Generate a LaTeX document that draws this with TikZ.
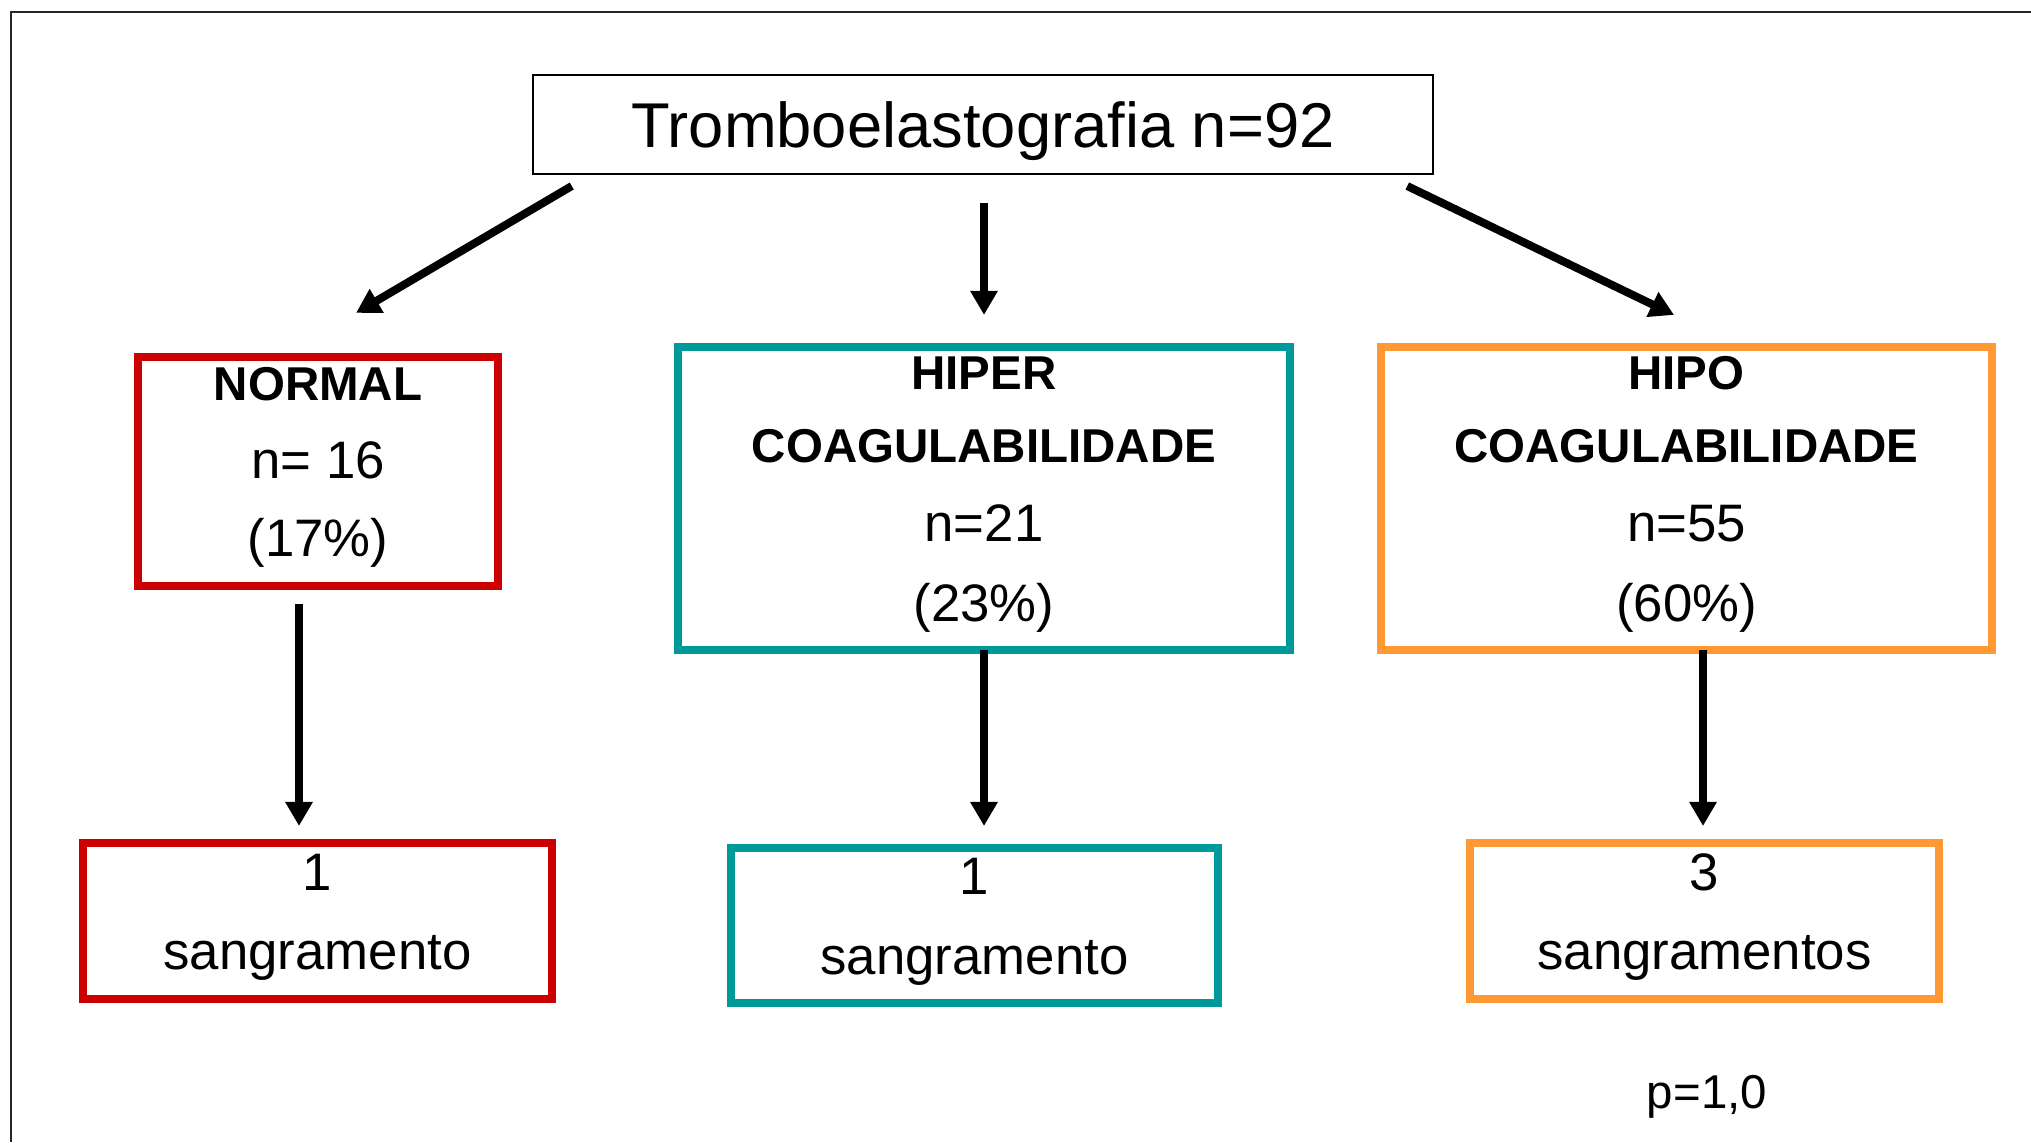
\documentclass[tikz,border=0pt]{standalone}
\usepackage{fontspec}
\setmainfont{Liberation Sans}
\usetikzlibrary{arrows.meta,calc}
\definecolor{boxred}{RGB}{204,0,0}
\definecolor{boxteal}{RGB}{0,153,153}
\definecolor{boxorange}{RGB}{255,153,51}

\begin{document}
\begin{tikzpicture}[x=0.01cm,y=-0.01cm,
  frameline/.style={line width=0.02cm, draw=black!85},
  titlebox/.style={draw, line width=0.02cm, inner sep=0pt, outer sep=0pt,
    minimum width=9cm, minimum height=0.99cm, text height=0.45cm, text depth=0cm,
    font=\fontsize{18}{22}\selectfont},
  catbox/.style={draw=#1, line width=0.075cm, inner sep=0pt, outer sep=0pt},
  flow/.style={-{Triangle[length=0.24cm,width=0.26cm]}, line width=0.08cm},
  hd/.style={anchor=base, font=\bfseries\fontsize{13.5}{16}\selectfont},
  val/.style={anchor=base, font=\fontsize{15}{18}\selectfont},
  note/.style={anchor=base, font=\fontsize{13.5}{16}\selectfont}]

\useasboundingbox (0,0) rectangle (2031,1142);

% outer frame (left and top edges)
\draw[frameline] (11,1142) -- (11,12) -- (2031,12);

% root
\node[titlebox] (title) at (983,124.5) {Tromboelastografia n=92};

% category boxes
\node[catbox=boxred, minimum width=3.6cm, minimum height=2.29cm] (normal) at (318,471.5) {};
\node[catbox=boxteal, minimum width=6.12cm, minimum height=3.03cm] (hiper) at (984,498.5) {};
\node[catbox=boxorange, minimum width=6.11cm, minimum height=3.03cm] (hipo) at (1686.5,498.5) {};

% outcome boxes
\node[catbox=boxred, minimum width=4.69cm, minimum height=1.56cm] (bleedA) at (317.5,921) {};
\node[catbox=boxteal, minimum width=4.87cm, minimum height=1.55cm] (bleedB) at (974.5,925.5) {};
\node[catbox=boxorange, minimum width=4.69cm, minimum height=1.56cm] (bleedC) at (1704.5,921) {};

% category texts
\node[hd]  (normalA) at (318,400) {NORMAL};
\node[val] (normalB) at (318,478) {n= 16};
\node[val] (normalC) at (318,556) {(17\%)};

\node[hd]  (hiperA) at (984,389) {HIPER};
\node[hd]  (hiperB) at (984,462) {COAGULABILIDADE};
\node[val] (hiperC) at (984,541) {n=21};
\node[val] (hiperD) at (984,621) {(23\%)};

\node[hd]  (hipoA) at (1686.5,389) {HIPO};
\node[hd]  (hipoB) at (1686.5,462) {COAGULABILIDADE};
\node[val] (hipoC) at (1686.5,541) {n=55};
\node[val] (hipoD) at (1686.5,621) {(60\%)};

% outcome texts
\node[val] (bleedAa) at (317.5,890) {1};
\node[val] (bleedAb) at (317.5,969) {sangramento};
\node[val] (bleedBa) at (974.5,894) {1};
\node[val] (bleedBb) at (974.5,974) {sangramento};
\node[val] (bleedCa) at (1704.5,890) {3};
\node[val] (bleedCb) at (1704.5,969) {sangramentos};

\node[note] (pval) at (1707,1108) {p=1,0};

% connectors
\draw[flow] ($(title.south west)+(39,12)$) -- ($(normal.north)+(38,-44)$);
\draw[flow] ($(title.south)+(1,29)$) -- ($(hiper.north)+(0,-32)$);
\draw[flow] ($(title.south east)+(-26,12)$) -- ($(hipo.north)+(-12.5,-32)$);
\draw[flow] ($(normal.south)+(-19,18)$) -- ($(bleedA.north)+(-18.5,-17)$);
\draw[flow] (hiper.south) -- ($(bleedB.north)+(9.5,-22)$);
\draw[flow] ($(hipo.south)+(16.5,0)$) -- ($(bleedC.north)+(-1.5,-17)$);
\end{tikzpicture}
\end{document}
